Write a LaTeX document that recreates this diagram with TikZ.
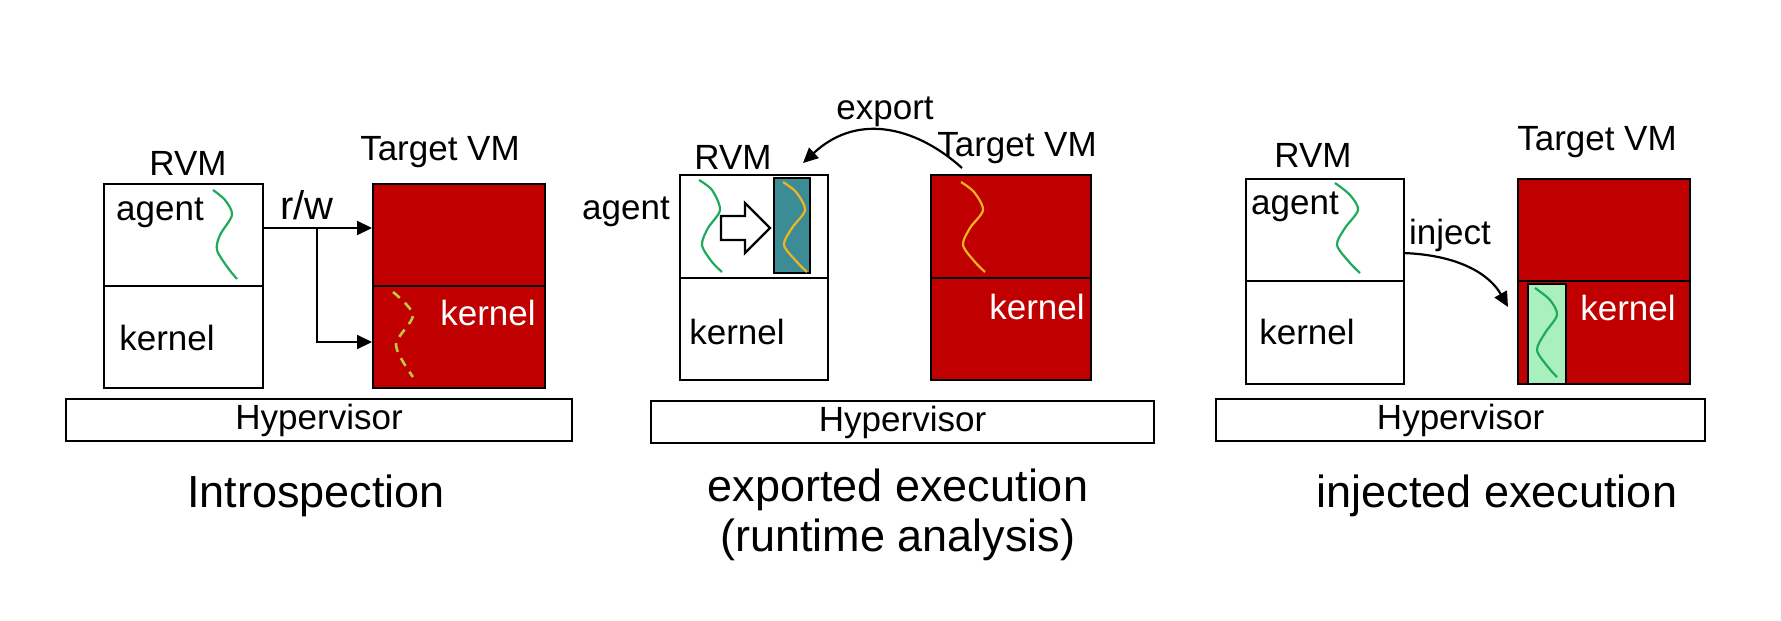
\documentclass[tikz,border=0pt]{standalone}
\usepackage{fontspec}
\setmainfont{Liberation Sans}
\usetikzlibrary{arrows.meta}
\definecolor{vmred}{RGB}{192,0,0}
\definecolor{thr}{RGB}{30,170,90}
\definecolor{teal2}{RGB}{60,140,150}
\definecolor{yel}{RGB}{240,180,30}
\definecolor{lgreen}{RGB}{170,240,190}
\definecolor{dyel}{RGB}{190,200,60}
\begin{document}
\begin{tikzpicture}[x=1pt,y=-1pt,
  box/.style={draw=black,line width=2.2pt,anchor=north west,inner sep=0,minimum width=#1},
  lab/.style={font=\fontsize{35}{40}\selectfont,inner sep=0},
  capt/.style={font=\fontsize{45}{50}\selectfont,inner sep=0,align=center},
  thread/.style={line width=2.2pt,smooth},
  arr/.style={line width=2.2pt,-{Triangle[length=15pt,width=14pt]}}]
\useasboundingbox (0,0) rectangle (1781,621);
% ---------- panel 1
\node[box=159pt,minimum height=102pt] (a1) at (103,183) {};
\node[box=159pt,minimum height=102pt] (k1) at (103,285) {};
\node[box=172pt,minimum height=102pt,fill=vmred] (ta1) at (372,183) {};
\node[box=172pt,minimum height=102pt,fill=vmred] (tk1) at (372,285) {};
\node[lab] (rvm1) at (188,163) {RVM};
\node[lab] (tvm1) at (440,152) {Target VM};
\node[lab] (ag1) at (160,213) {agent};
\node[lab] (kl1) at (167,338) {kernel};
\node[lab,text=white] (kw1) at (488,313) {kernel};
\node[lab,font=\fontsize{40}{44}\selectfont] (rw) at (307,205) {r/w};
\draw[thread,thr] plot coordinates {(213,190) (225,200) (232,215) (220,235) (217,250) (228,268) (237,279)};
\draw[line width=2.6pt,dyel,dash pattern=on 9pt off 7pt] plot[smooth] coordinates {(393,292) (413,315) (396,345) (413,377)};
\coordinate (br) at (317,228);
\draw[arr] (a1.east |- br) -- (ta1.west |- br);
\draw[arr] (br) |- (372,342) coordinate (e1);
\node[box=506pt,minimum height=42pt] (hv1) at (65,398) {};
\node[lab] at (hv1.center) {Hypervisor};
\node[capt] (c1) at (316,496) {Introspection};
% ---------- panel 2
\node[box=148pt,minimum height=103pt] (a2) at (679,174) {};
\node[box=148pt,minimum height=102pt] (k2) at (679,277) {};
\node[box=160pt,minimum height=103pt,fill=vmred] (ta2) at (930,174) {};
\node[box=160pt,minimum height=102pt,fill=vmred] (tk2) at (930,277) {};
\node[box=36pt,minimum height=95pt,fill=teal2] (tb) at (773,177) {};
\node[lab] (rvm2) at (733,157) {RVM};
\node[lab] (tvm2) at (1017,148) {Target VM};
\node[lab] (ex) at (885,112) {export};
\node[lab] (ag2) at (626,212) {agent};
\node[lab] (kl2) at (737,332) {kernel};
\node[lab,text=white] (kw2) at (1037,307) {kernel};
\draw[thread,thr] plot coordinates {(699,180) (712,190) (720,210) (708,228) (702,245) (712,262) (722,272)};
\draw[thread,yel] plot coordinates {(783,182) (796,192) (805,210) (792,228) (784,245) (797,262) (807,272)};
\draw[thread,yel] plot coordinates {(961,182) (974,192) (983,210) (970,228) (963,245) (975,262) (985,272)};
\draw[line width=2.2pt,fill=white] (721,216) -- (745,216) -- (745,203) -- (770,228) -- (745,253) -- (745,240) -- (721,240) -- cycle;
\coordinate (es) at (962,168);
\coordinate (ee) at (803,163);
\draw[arr] (es) .. controls (920,130) and (860,110) .. (ee);
\node[box=503pt,minimum height=42pt] (hv2) at (650,400) {};
\node[lab] at (hv2.center) {Hypervisor};
\node[capt] (c2) at (898,515) {exported execution\\(runtime analysis)};
% ---------- panel 3
\node[box=158pt,minimum height=102pt] (a3) at (1245,178) {};
\node[box=158pt,minimum height=103pt] (k3) at (1245,280) {};
\node[box=172pt,minimum height=102pt,fill=vmred] (ta3) at (1517,178) {};
\node[box=172pt,minimum height=103pt,fill=vmred] (tk3) at (1517,280) {};
\node[box=38pt,minimum height=100pt,fill=lgreen] (gb) at (1527,283) {};
\node[lab] (rvm3) at (1313,155) {RVM};
\node[lab] (tvm3) at (1597,142) {Target VM};
\node[lab] (ag3) at (1295,207) {agent};
\node[lab] (inj) at (1450,235) {inject};
\node[lab] (kl3) at (1307,332) {kernel};
\node[lab,text=white] (kw3) at (1628,308) {kernel};
\draw[thread,thr] plot coordinates {(1335,183) (1350,195) (1358,210) (1345,228) (1337,245) (1350,263) (1360,273)};
\draw[thread,thr] plot coordinates {(1535,288) (1550,300) (1557,315) (1545,333) (1537,350) (1548,367) (1557,377)};
\coordinate (is) at (1403,253);
\coordinate (ie) at (1508,307);
\draw[arr] (is) .. controls (1460,255) and (1490,275) .. (ie);
\node[box=489pt,minimum height=42pt] (hv3) at (1215,398) {};
\node[lab] at (hv3.center) {Hypervisor};
\node[capt] (c3) at (1497,496) {injected execution};
\end{tikzpicture}
\end{document}
